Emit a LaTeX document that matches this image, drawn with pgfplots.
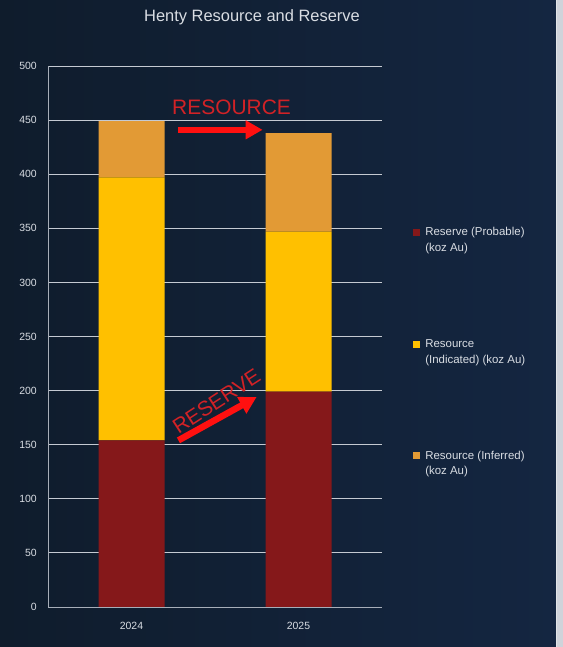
\documentclass[border=0pt]{standalone}
\usepackage{fontspec}
\setmainfont{Liberation Sans}
\usepackage{pgfplots}
\pgfplotsset{compat=1.18}
\usetikzlibrary{arrows.meta}
\definecolor{bgL}{HTML}{0F1C2C}
\definecolor{bgR}{HTML}{142641}
\definecolor{reserve}{HTML}{85181A}
\definecolor{indicated}{HTML}{FFC000}
\definecolor{inferred}{HTML}{E29A35}
\definecolor{gridc}{HTML}{C5CAD2}
\definecolor{axc}{HTML}{A7AEB9}
\definecolor{lab}{HTML}{D9DDE3}
\definecolor{annot}{HTML}{D22226}
\definecolor{arrowc}{HTML}{FF1010}
\definecolor{edge}{HTML}{CFD3DA}
\begin{document}
\begin{tikzpicture}
\useasboundingbox (0,0) rectangle (563bp,647bp);
\shade[left color=bgL, right color=bgR] (0,0) rectangle (556bp,647bp);
\fill[edge] (557bp,0) rectangle (563bp,647bp);
\node[text=lab, font=\fontsize{16.5}{18}\selectfont] at (252bp,630bp) {Henty Resource and Reserve};
\begin{axis}[
  at={(48bp,40bp)}, anchor=south west,
  scale only axis, width=334bp, height=541bp,
  ybar stacked, bar width=66bp,
  xmin=-0.5, xmax=1.5, ymin=0, ymax=500,
  xtick={0,1}, xticklabels={2024,2025},
  ytick={0,50,...,500},
  axis x line*=bottom, axis y line*=left,
  axis line style={axc, line width=0.9bp, -},
  major tick length=0pt,
  ymajorgrids, major grid style={gridc, line width=0.8bp},
  /pgf/number format/assume math mode=true,
  tick label style={text=lab, font=\fontsize{10.5}{12}\selectfont},
  y tick label style={anchor=east, inner sep=0pt, xshift=-11bp},
  x tick label style={anchor=north, inner sep=0pt, yshift=-14.5bp},
  legend style={at={(1.093,0.7015)}, anchor=north west, draw=none, fill=none,
    inner sep=0pt, row sep=86bp, column sep=5bp, text=lab,
    font=\fontsize{11.5}{16}\selectfont,
    nodes={align=left, inner sep=0pt}},
  legend cell align=left,
  legend image code/.code={\fill[#1] (0bp,4.5bp) rectangle (7bp,11.5bp);},
  clip=false,
]
\addplot[fill=reserve, draw=none] coordinates {(0,154) (1,199)};
\addlegendentry{Reserve (Probable)\\(koz Au)}
\addplot[fill=indicated, draw=none] coordinates {(0,243) (1,148)};
\addlegendentry{Resource\\(Indicated) (koz Au)}
\addplot[fill=inferred, draw=none] coordinates {(0,52) (1,91)};
\addlegendentry{Resource (Inferred)\\(koz Au)}
\node[text=annot, font=\fontsize{21}{24}\selectfont] at (axis cs:0.599,462) {RESOURCE};
\draw[arrowc, line width=6.5bp, -{Triangle[length=17bp,width=18bp]}] (axis cs:0.281,441) -- (axis cs:0.785,441);
\node[text=annot, font=\fontsize{21}{24}\selectfont, rotate=33] at (axis cs:0.509,190) {RESERVE};
\draw[arrowc, line width=6.5bp, -{Triangle[length=17bp,width=18bp]}] (axis cs:0.281,154) -- (axis cs:0.749,194);
\end{axis}
\end{tikzpicture}
\end{document}
